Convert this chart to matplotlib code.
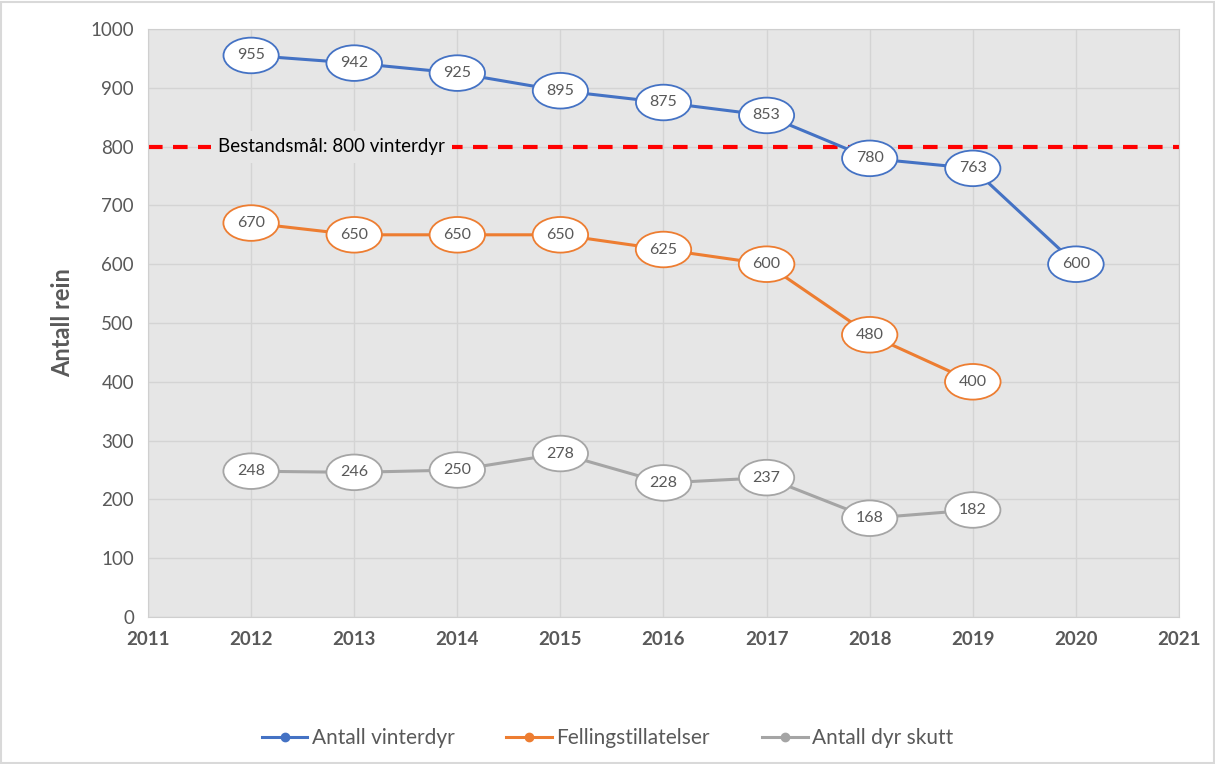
import matplotlib
matplotlib.use("Agg")
import matplotlib.pyplot as plt

# data
years_vinter = [2012, 2013, 2014, 2015, 2016, 2017, 2018, 2019, 2020]
vinterdyr = [955, 942, 925, 895, 875, 853, 780, 763, 600]
years_felling = [2012, 2013, 2014, 2015, 2016, 2017, 2018, 2019]
felling = [670, 650, 650, 650, 625, 600, 480, 400]
skutt = [248, 246, 250, 278, 228, 237, 168, 182]
bestandsmal = 800

plt.rcParams["font.family"] = ["Lato", "DejaVu Sans"]
TXT = "#595959"

fig = plt.figure(figsize=(12.15, 7.64), dpi=100)
ax = fig.add_axes([148 / 1215, 1 - 617 / 764, (1179 - 148) / 1215, (617 - 29) / 764])
ax.set_facecolor("#E6E6E6")

series = [
    (years_vinter, vinterdyr, "#4472C4", "Antall vinterdyr"),
    (years_felling, felling, "#ED7D31", "Fellingstillatelser"),
    (years_felling, skutt, "#A5A5A5", "Antall dyr skutt"),
]
for xs, ys, col, lab in series:
    ax.plot(xs, ys, color=col, lw=2.2, marker="o", ms=6, label=lab, zorder=3)
    for x, y in zip(xs, ys):
        ax.text(x, y, str(y), ha="center", va="center", fontsize=11.5, color=TXT, zorder=5,
                bbox=dict(boxstyle="ellipse,pad=0.35", fc="white", ec=col, lw=1.3))

# bestandsmål
ax.axhline(bestandsmal, color="#FF0000", lw=3, ls=(0, (3.5, 2.5)), zorder=2)
ax.text(2012.78, bestandsmal, "Bestandsmål: 800 vinterdyr", ha="center", va="center",
        fontsize=13.5, color="black", zorder=4,
        bbox=dict(boxstyle="square,pad=0.4", fc="#E6E6E6", ec="none"))

ax.set_xlim(2011, 2021)
ax.set_ylim(0, 1000)
ax.set_xticks(range(2011, 2022))
ax.set_yticks(range(0, 1001, 100))
ax.grid(True, color="#D4D4D4", lw=1)
ax.set_axisbelow(True)
for s in ax.spines.values():
    s.set_color("#CFCFCF")
ax.tick_params(length=0, pad=10, labelsize=13.5, colors=TXT)
for t in ax.get_xticklabels():
    t.set_fontweight("bold")
ax.set_ylabel("Antall rein", fontsize=17, fontweight="bold", color=TXT, labelpad=12)

fig.legend(loc="center", bbox_to_anchor=(0.5, 1 - 738 / 764), ncol=3, frameon=False,
           fontsize=15, labelcolor=TXT, handlelength=2.2, handletextpad=0.2, columnspacing=2.5)

# outer frame
fig.patches.append(plt.Rectangle((0.001, 0.001), 0.998, 0.996, transform=fig.transFigure,
                                 fill=False, ec="#D9D9D9", lw=1.5))

fig.savefig("out.png", dpi=100)
